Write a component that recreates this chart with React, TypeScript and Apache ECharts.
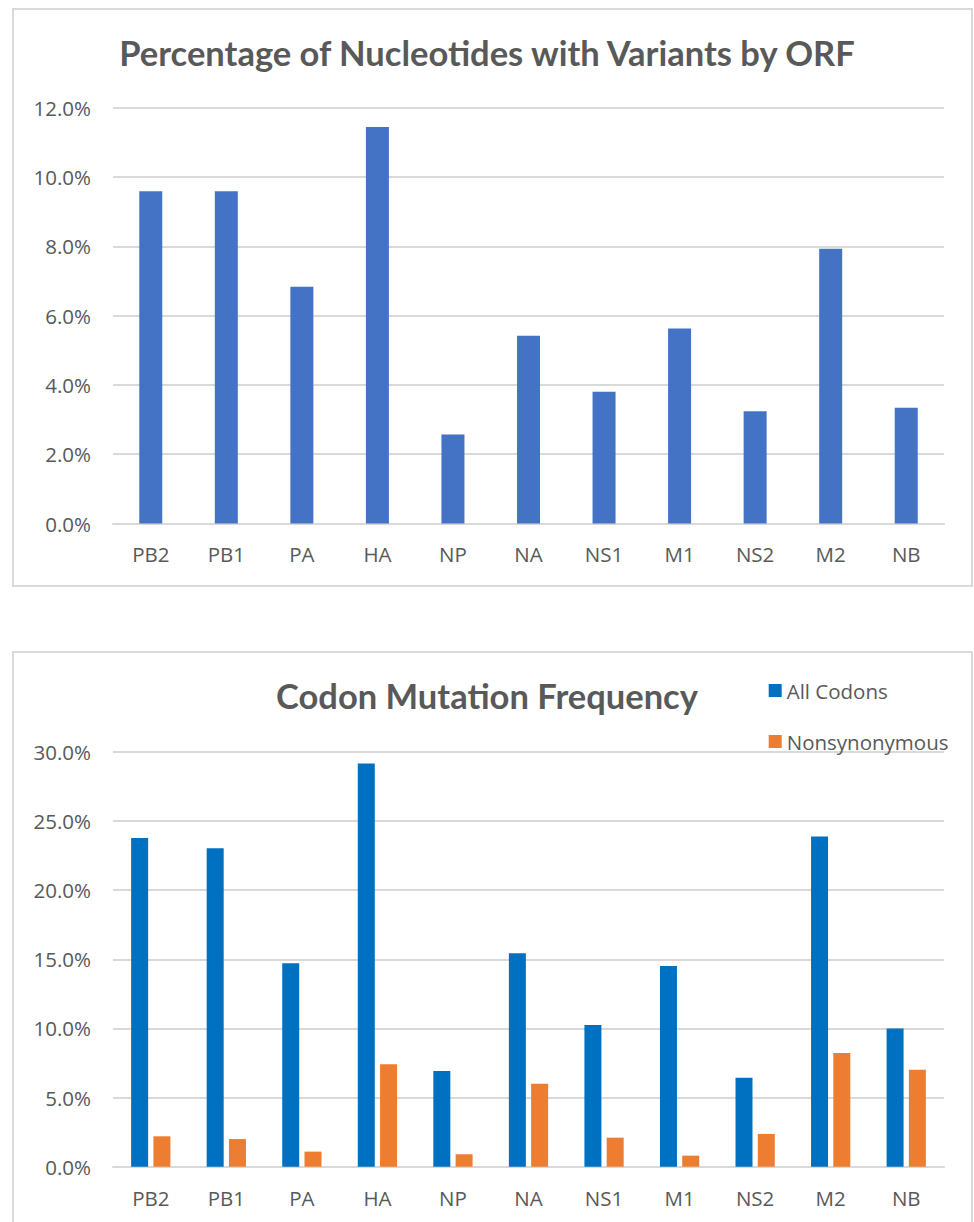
import React, { useEffect, useRef } from "react";
import * as echarts from "echarts";

const categories = ["PB2", "PB1", "PA", "HA", "NP", "NA", "NS1", "M1", "NS2", "M2", "NB"];
const nucleotideVariantPct = [9.59, 9.59, 6.83, 11.44, 2.57, 5.42, 3.8, 5.63, 3.24, 7.93, 3.34];
const allCodonsPct = [23.78, 23.04, 14.72, 29.16, 6.92, 15.44, 10.25, 14.52, 6.44, 23.88, 9.99];
const nonsynonymousPct = [2.2, 2.0, 1.09, 7.41, 0.9, 6.0, 2.1, 0.8, 2.37, 8.23, 7.02];
const topAxis = { min: 0, max: 12, interval: 2 };
const bottomAxis = { min: 0, max: 30, interval: 5 };
const title1 = "Percentage of Nucleotides with Variants by ORF";
const title2 = "Codon Mutation Frequency";
const seriesNames = ["All Codons", "Nonsynonymous"];

const TITLE_FONT = "Lato";
const FONT = "Open Sans";
const TEXT = "#595959";
const GRID = "#d9d9d9";

export default function App() {
  const ref = useRef<HTMLDivElement>(null);
  useEffect(() => {
    if (!ref.current) return;
    const chart = echarts.init(ref.current, null, { renderer: "svg" });
    const pct = (v: number) => v.toFixed(1) + "%";
    const yAxisBase = {
      type: "value",
      axisLine: { show: false },
      axisTick: { show: false },
      splitLine: { lineStyle: { color: GRID, width: 2 } },
      axisLabel: { color: TEXT, fontFamily: FONT, fontSize: 20.5, margin: 22, formatter: pct },
    };
    const xAxisBase = {
      type: "category",
      data: categories,
      axisLine: { lineStyle: { color: GRID, width: 2 } },
      axisTick: { show: false },
      axisLabel: { color: TEXT, fontFamily: FONT, fontSize: 20.5, margin: 20 },
    };
    chart.setOption({
      animation: false,
      backgroundColor: "#ffffff",
      title: [
        {
          text: title1,
          left: "center",
          top: 30,
          textStyle: { fontFamily: TITLE_FONT, fontWeight: "bold", fontSize: 34.5, color: TEXT },
        },
        {
          text: title2,
          left: "center",
          top: 673,
          textStyle: { fontFamily: TITLE_FONT, fontWeight: "bold", fontSize: 34.5, color: TEXT },
        },
      ],
      legend: {
        data: seriesNames,
        orient: "vertical",
        left: 768.7,
        top: 680,
        padding: 0,
        itemWidth: 13,
        itemHeight: 13,
        itemGap: 30,
        icon: "rect",
        textStyle: { color: TEXT, fontFamily: FONT, fontSize: 20.5, lineHeight: 20 },
      },
      graphic: [
        {
          type: "rect",
          shape: { x: 13, y: 9, width: 959, height: 577 },
          style: { fill: "none", stroke: GRID, lineWidth: 2 },
          silent: true,
        },
        {
          type: "rect",
          shape: { x: 13, y: 652, width: 959, height: 620 },
          style: { fill: "none", stroke: GRID, lineWidth: 2 },
          silent: true,
        },
      ],
      grid: [
        { left: 113, right: 30, top: 107.7, height: 415.8 },
        { left: 113, right: 30, top: 752, height: 414.7 },
      ],
      xAxis: [
        { ...xAxisBase, gridIndex: 0 },
        { ...xAxisBase, gridIndex: 1, axisLabel: { ...xAxisBase.axisLabel, margin: 21 } },
      ],
      yAxis: [
        { ...yAxisBase, gridIndex: 0, ...topAxis },
        { ...yAxisBase, gridIndex: 1, ...bottomAxis },
      ],
      series: [
        {
          type: "bar",
          name: "Variants",
          xAxisIndex: 0,
          yAxisIndex: 0,
          data: nucleotideVariantPct,
          barWidth: 23,
          itemStyle: { color: "#4472C4" },
        },
        {
          type: "bar",
          name: seriesNames[0],
          xAxisIndex: 1,
          yAxisIndex: 1,
          data: allCodonsPct,
          barWidth: 17,
          barGap: "31%",
          itemStyle: { color: "#0070C0" },
        },
        {
          type: "bar",
          name: seriesNames[1],
          xAxisIndex: 1,
          yAxisIndex: 1,
          data: nonsynonymousPct,
          barWidth: 17,
          barGap: "31%",
          itemStyle: { color: "#ED7D31" },
        },
      ],
    });
    return () => chart.dispose();
  }, []);
  return (
    <div
      ref={ref}
      style={{ position: "absolute", left: 0, top: 0, width: 974, height: 1222 }}
    />
  );
}
